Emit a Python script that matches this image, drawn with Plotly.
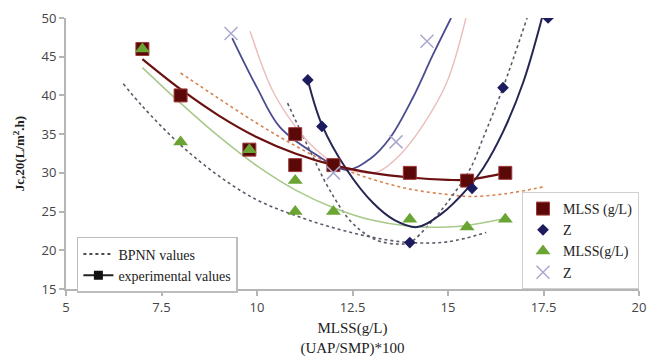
import plotly.graph_objects as go

# ---- experimental points ----
sq_x = [7, 8, 9.8, 11, 11, 12, 14, 15.5, 16.5]
sq_y = [46, 40, 33, 35, 31, 31, 30, 29, 30]

dia_x = [11.33, 11.7, 14, 15.63, 16.44, 17.62]
dia_y = [42, 36, 21, 28, 41, 50]

tri_x = [7, 8, 9.8, 11, 11, 12, 14, 15.5, 16.5]
tri_y = [46, 34, 33, 29, 25, 25, 24, 23, 24]

xm_x = [9.32, 12, 13.64, 14.45]
xm_y = [48, 30, 34, 47]

# ---- curves ----
red_x = [7, 8, 9, 10, 11, 12, 13, 14, 15, 15.5, 16.5]
red_y = [44.7, 40.8, 37.4, 34.6, 32.5, 31.0, 30.0, 29.4, 29.1, 29.1, 30.0]

org_x = [8, 9, 10, 11, 12, 13, 14, 15, 15.58, 16.5, 17.5]
org_y = [42.9, 39.6, 36.4, 33.5, 31.0, 29.2, 27.9, 27.2, 26.95, 27.3, 28.2]

grn_x = [7, 8, 9, 10, 11, 12, 13, 14, 15, 15.5, 16.5]
grn_y = [43.6, 39.0, 34.7, 30.9, 27.8, 25.5, 23.9, 23.1, 23.0, 23.2, 24.1]

gd_x = [6.5, 7, 8, 9, 10, 11, 12, 13, 14, 15, 16]
gd_y = [41.5, 38.6, 33.6, 29.6, 26.5, 24.5, 22.9, 21.7, 21.0, 21.1, 22.3]

blu_x = [9.35, 10.0, 10.6, 11.47, 12.35, 12.96, 13.48, 14.08, 14.6, 15.08]
blu_y = [47.4, 41.0, 35.9, 32.6, 30.4, 31.8, 34.5, 39.7, 45.2, 50]

pnk_x = [9.82, 10.4, 11.0, 11.5, 12.1, 12.8, 13.2, 13.74, 14.35, 14.97, 15.47]
pnk_y = [48.3, 40.7, 36.0, 33.2, 31.0, 30.0, 30.2, 32.3, 36.2, 41.7, 50]

nav_x = [11.33, 11.7, 12.35, 13.04, 13.6, 14.19, 14.8, 15.55, 15.92, 16.44, 16.97, 17.46]
nav_y = [42.0, 36.2, 30.4, 26.1, 23.9, 23.0, 24.6, 28.2, 30.6, 35.3, 41.7, 50]

hd_x = [10.8, 11.47, 11.9, 12.5, 13.14, 13.7, 14.0, 14.5, 15.0, 15.58, 15.92, 16.44, 17.07]
hd_y = [39.0, 32.0, 27.8, 23.5, 21.3, 20.8, 21.0, 23.3, 26.3, 30.5, 34.5, 41.0, 50]

x_ticks = [5, 7.5, 10, 12.5, 15, 17.5, 20]
x_tick_text = ["5", "7.5", "10", "12.5", "15", "17.5", "20"]
y_ticks = [15, 20, 25, 30, 35, 40, 45, 50]

fig = go.Figure()

def curve(x, y, color, dash="solid", width=1.8):
    fig.add_trace(go.Scatter(x=x, y=y, mode="lines", showlegend=False,
                             line=dict(color=color, width=width, dash=dash,
                                       shape="spline", smoothing=1),
                             hoverinfo="skip"))

curve(gd_x, gd_y, "#5a5a6a", "dot", 1.6)
curve(org_x, org_y, "#d8834f", "dot", 1.6)
curve(hd_x, hd_y, "#5a5a6a", "dot", 1.6)
curve(pnk_x, pnk_y, "#ecbcbc", "solid", 1.4)
curve(grn_x, grn_y, "#a9c98d", "solid", 1.6)
curve(blu_x, blu_y, "#4b4b92", "solid", 1.8)
curve(nav_x, nav_y, "#262655", "solid", 2.0)
curve(red_x, red_y, "#6b1010", "solid", 2.2)

fig.add_trace(go.Scatter(x=sq_x, y=sq_y, mode="markers", name="MLSS (g/L)",
                         legend="legend", legendrank=1,
                         marker=dict(symbol="square", size=13, color="#5a0808",
                                     line=dict(color="#a03a3a", width=1))))
fig.add_trace(go.Scatter(x=dia_x, y=dia_y, mode="markers", name="Z",
                         legend="legend", legendrank=2,
                         marker=dict(symbol="diamond", size=9, color="#1b1b5e",
                                     line=dict(width=0))))
fig.add_trace(go.Scatter(x=tri_x, y=tri_y, mode="markers", name="MLSS(g/L)",
                         legend="legend", legendrank=3,
                         marker=dict(symbol="triangle-up", size=13, color="#6aa534",
                                     line=dict(width=0))))
fig.add_trace(go.Scatter(x=xm_x, y=xm_y, mode="markers", name="Z",
                         legend="legend", legendrank=4,
                         marker=dict(symbol="x-thin", size=13, color="#a9a9cf",
                                     line=dict(color="#a9a9cf", width=1.5))))

# left legend entries
fig.add_trace(go.Scatter(x=[None], y=[None], mode="lines", name="BPNN values",
                         legend="legend2",
                         line=dict(color="#111", width=1.6, dash="dot")))
fig.add_trace(go.Scatter(x=[None], y=[None], mode="lines+markers",
                         name="experimental values", legend="legend2",
                         line=dict(color="#222", width=2),
                         marker=dict(symbol="square", size=9, color="#111")))

axis_col = "#b5b5b5"
fig.update_layout(
    width=659, height=357,
    margin=dict(l=66, r=20, t=18, b=68, autoexpand=False),
    paper_bgcolor="white", plot_bgcolor="white",
    font=dict(family="Liberation Serif", size=14, color="#222"),
    xaxis=dict(range=[5, 20], tickvals=x_ticks, ticktext=x_tick_text,
               automargin=False,
               showgrid=False, zeroline=False, showline=True,
               linecolor=axis_col, linewidth=2, ticks="outside",
               tickcolor=axis_col, ticklen=5, tickwidth=1.5,
               tickfont=dict(family="Open Sans", size=13, color="#444"),
               title=dict(text="MLSS(g/L)<br>(UAP/SMP)*100", standoff=8,
                          font=dict(family="Liberation Serif", size=15, color="#222"))),
    yaxis=dict(range=[15, 50], tickvals=y_ticks, automargin=False,
               showgrid=False, zeroline=False, showline=True,
               linecolor=axis_col, linewidth=2, ticks="outside",
               tickcolor=axis_col, ticklen=5, tickwidth=1.5,
               tickfont=dict(family="Open Sans", size=13, color="#444"),
               title=dict(text="<b>Jc,20(L/m<sup>2</sup>.h)</b>", standoff=14,
                          font=dict(family="Liberation Serif", size=13, color="#222"))),
    legend=dict(x=1.0, xanchor="right", y=0.358, yanchor="top",
                bgcolor="white", bordercolor="#cfcfcf", borderwidth=1,
                font=dict(family="Liberation Serif", size=14, color="#222"),
                tracegroupgap=0, itemwidth=30),
    legend2=dict(x=0.019, xanchor="left", y=0.192, yanchor="top",
                 bgcolor="white", bordercolor="#bdbdbd", borderwidth=1.5,
                 font=dict(family="Liberation Serif", size=14, color="#222"),
                 itemwidth=30, tracegroupgap=0),
)

fig.write_html("out.html")
